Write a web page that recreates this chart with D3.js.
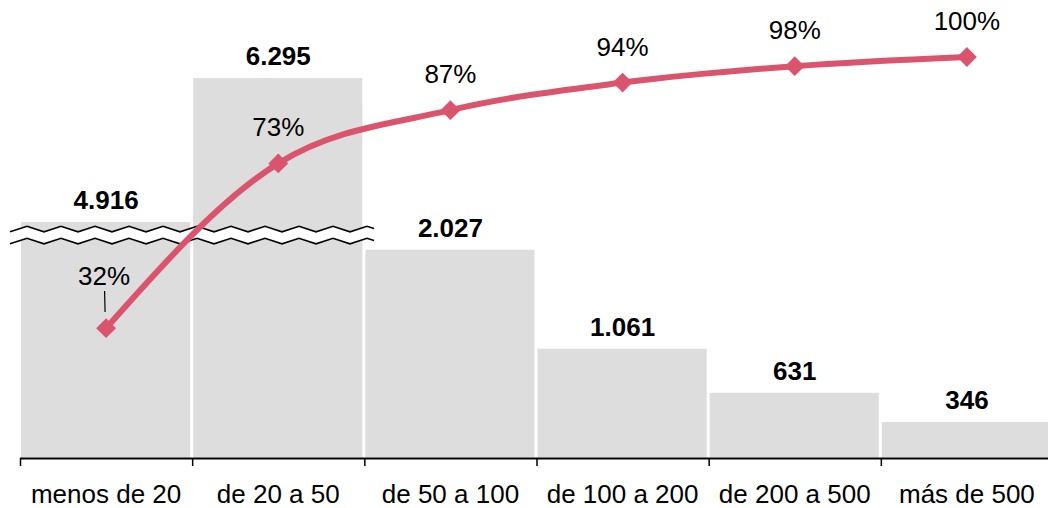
<!DOCTYPE html>
<html>
<head>
<meta charset="utf-8">
<script src="https://cdn.jsdelivr.net/npm/d3@7.9.0/dist/d3.min.js"></script>
<style>
  body { margin: 0; background: #fff; }
  svg { display: block; font-family: "Liberation Sans", Arial, sans-serif; }
</style>
</head>
<body>
<div id="chart"></div>
<script>
// data
const categories = ['menos de 20', 'de 20 a 50', 'de 50 a 100', 'de 100 a 200', 'de 200 a 500', 'más de 500'];
const counts = [4916, 6295, 2027, 1061, 631, 346];
const cumPct = [32.2, 73.4, 86.7, 93.6, 97.7, 100];
const pctLabels = ['32%', '73%', '87%', '94%', '98%', '100%'];

const width = 1048;
const height = 508;

const svg = d3.select('#chart')
    .append('svg')
    .attr('width', width)
    .attr('height', height);

const x = d3.scaleBand()
    .domain(categories)
    .range([20, 1053])
    .paddingInner(0)
    .paddingOuter(0);

// broken y axis: the gap lowBreak..highBreak is squeezed to zero
const y0 = 457.5, k = 0.1025, k2 = 0.1044;
const lowBreak = 2185, highBreak = 4806;
const yBreak = y0 - lowBreak * k;
const y = d3.scaleLinear()
    .domain([0, lowBreak, highBreak, 7000])
    .range([y0, yBreak, yBreak, yBreak - (7000 - highBreak) * k2]);

const yPct = d3.scaleLinear()
    .domain([0, 100])
    .range([457, 57]);

const fmt = d3.formatLocale({ decimal: ',', thousands: '.', grouping: [3], currency: ['', '€'] }).format(',d');

// bars
svg.append('g')
    .selectAll('rect')
    .data(counts)
    .join('rect')
    .attr('x', (d, i) => x(categories[i]) + 1)
    .attr('width', x.bandwidth() - 3)
    .attr('y', d => y(d))
    .attr('height', d => y0 - y(d))
    .attr('fill', '#dddddd');

// axis break zigzag across the first two bars
const zzStart = 10, zzEnd = 374, half = 17, amp = 5.5;
const zzTop = 226.3, zzGap = 12;
const zzPts = [];
let j = 0;
for (let xx = zzStart; xx < zzEnd; xx += half, j++) {
    zzPts.push([xx, j % 2 === 0 ? amp : 0]);
}
{
    // finish exactly at zzEnd
    const last = zzPts[zzPts.length - 1];
    const t = (zzEnd - last[0]) / half;
    const next = j % 2 === 0 ? amp : 0;
    zzPts.push([zzEnd, last[1] + (next - last[1]) * t]);
}
const zzLine = d3.line();
const topPts = zzPts.map(p => [p[0], zzTop + p[1]]);
const botPts = zzPts.map(p => [p[0], zzTop + zzGap + p[1]]);
svg.append('path')
    .attr('d', zzLine(topPts.concat(botPts.slice().reverse())) + 'Z')
    .attr('fill', '#fff');
[topPts, botPts].forEach(pts => {
    svg.append('path')
        .attr('d', zzLine(pts))
        .attr('fill', 'none')
        .attr('stroke', '#000')
        .attr('stroke-width', 1.6);
});

// value labels
svg.append('g')
    .selectAll('text')
    .data(counts)
    .join('text')
    .attr('x', (d, i) => x(categories[i]) + x.bandwidth() / 2)
    .attr('y', d => y(d) - 13)
    .attr('text-anchor', 'middle')
    .attr('font-size', 26)
    .attr('font-weight', 'bold')
    .attr('fill', '#000')
    .text(d => fmt(d));

// x axis
const axis = svg.append('g');
axis.append('line')
    .attr('x1', 20).attr('x2', width)
    .attr('y1', 458.5).attr('y2', 458.5)
    .attr('stroke', '#000')
    .attr('stroke-width', 2);
axis.selectAll('line.tick')
    .data(categories)
    .join('line')
    .attr('class', 'tick')
    .attr('x1', d => x(d) + 0.5).attr('x2', d => x(d) + 0.5)
    .attr('y1', 458).attr('y2', 466)
    .attr('stroke', '#000')
    .attr('stroke-width', 1.5);
axis.selectAll('text')
    .data(categories)
    .join('text')
    .attr('x', d => x(d) + x.bandwidth() / 2)
    .attr('y', 503)
    .attr('text-anchor', 'middle')
    .attr('font-size', 26)
    .attr('fill', '#000')
    .text(d => d);

// cumulative line
const pts = cumPct.map((p, i) => [x(categories[i]) + x.bandwidth() / 2, yPct(p)]);
const lineColor = '#db546d';
svg.append('path')
    .attr('d', d3.line().curve(d3.curveMonotoneX)(pts))
    .attr('fill', 'none')
    .attr('stroke', lineColor)
    .attr('stroke-width', 6);

svg.append('g')
    .selectAll('path')
    .data(pts)
    .join('path')
    .attr('transform', d => `translate(${d[0]},${d[1]}) rotate(45)`)
    .attr('d', 'M-7,-7H7V7H-7Z')
    .attr('fill', lineColor);

// percent labels
svg.append('g')
    .selectAll('text')
    .data(pts)
    .join('text')
    .attr('x', (d, i) => i === 0 ? d[0] - 2 : d[0])
    .attr('y', (d, i) => i === 0 ? 285 : d[1] - 27)
    .attr('text-anchor', 'middle')
    .attr('font-size', 26)
    .attr('fill', '#000')
    .text((d, i) => pctLabels[i]);

// leader for the first percent label
svg.append('line')
    .attr('x1', pts[0][0] - 1.5).attr('x2', pts[0][0] - 1)
    .attr('y1', 291).attr('y2', 312)
    .attr('stroke', '#000')
    .attr('stroke-width', 1.2);
</script>
</body>
</html>
